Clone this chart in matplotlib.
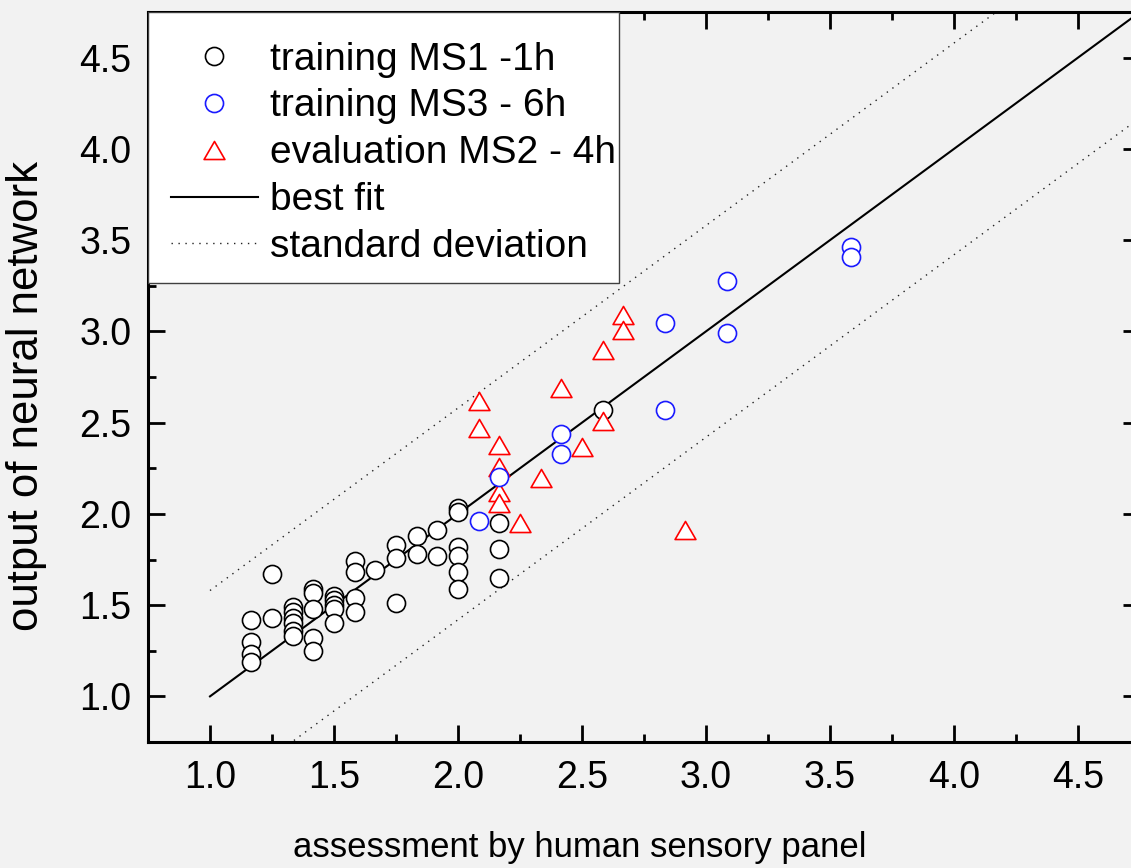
import numpy as np
import matplotlib.pyplot as plt
from matplotlib.patches import Rectangle
from matplotlib.path import Path
from matplotlib.ticker import MultipleLocator

# training MS1 - 1h (black circles)
ms1_x = [1.167, 1.167, 1.167, 1.167, 1.25, 1.25,
         1.333, 1.333, 1.333, 1.333, 1.333, 1.333,
         1.417, 1.417, 1.417, 1.417, 1.417,
         1.5, 1.5, 1.5, 1.5, 1.5,
         1.583, 1.583, 1.583, 1.583, 1.667,
         1.75, 1.75, 1.75, 1.833, 1.833, 1.917, 1.917,
         2.0, 2.0, 2.0, 2.0, 2.0, 2.0,
         2.167, 2.167, 2.167, 2.583]
ms1_y = [1.42, 1.30, 1.23, 1.19, 1.43, 1.67,
         1.49, 1.46, 1.43, 1.40, 1.36, 1.33,
         1.59, 1.565, 1.48, 1.32, 1.25,
         1.55, 1.53, 1.50, 1.48, 1.40,
         1.74, 1.68, 1.54, 1.46, 1.69,
         1.83, 1.76, 1.51, 1.88, 1.78, 1.91, 1.77,
         2.03, 2.01, 1.82, 1.77, 1.68, 1.59,
         1.95, 1.81, 1.65, 2.57]

# training MS3 - 6h (blue circles)
ms3_x = [2.083, 2.167, 2.417, 2.417, 2.833, 2.833, 3.083, 3.083, 3.583, 3.583]
ms3_y = [1.96, 2.20, 2.44, 2.33, 3.045, 2.57, 3.275, 2.99, 3.465, 3.41]

# evaluation MS2 - 4h (red triangles)
ms2_x = [2.083, 2.083, 2.167, 2.167, 2.167, 2.167, 2.25, 2.333,
         2.417, 2.5, 2.583, 2.583, 2.667, 2.667, 2.917]
ms2_y = [2.62, 2.47, 2.38, 2.255, 2.12, 2.06, 1.95, 2.195,
         2.69, 2.365, 2.51, 2.90, 3.09, 3.01, 1.91]

fit_x = [1.0, 4.75]
fit_slope = 1.0
fit_icpt = 0.0
sd = 0.58

ticks = [1.0, 1.5, 2.0, 2.5, 3.0, 3.5, 4.0, 4.5]

plt.rcParams['font.family'] = ['Liberation Sans', 'DejaVu Sans']
bg = '#f2f2f2'
W, H = 1131, 868

fig = plt.figure(figsize=(W / 100, H / 100), dpi=100, facecolor=bg)
ax = fig.add_axes([148 / W, 1 - 742 / H, (1140 - 148) / W, (742 - 12) / H])
ax.set_facecolor(bg)

fx = np.array(fit_x)
fy = fit_slope * fx + fit_icpt
ax.plot(fx, fy, color='black', lw=1.5, zorder=2, label='best fit')
ax.plot(fx, fy + sd, color='#222222', lw=1.0, ls=(0, (1, 4)), zorder=2,
        label='standard deviation')
ax.plot(fx, fy - sd, color='#222222', lw=1.0, ls=(0, (1, 4)), zorder=2)

tri = Path([(-1, -0.866), (1, -0.866), (0, 0.866), (-1, -0.866)],
           [Path.MOVETO, Path.LINETO, Path.LINETO, Path.CLOSEPOLY])

ax.plot(ms1_x, ms1_y, 'o', ms=13, mfc='white', mec='black', mew=1.2,
        zorder=3, label='training MS1 -1h')
ax.plot(ms3_x, ms3_y, 'o', ms=13, mfc='white', mec='#1a1aff', mew=1.2,
        zorder=5, label='training MS3 - 6h')
ax.plot(ms2_x, ms2_y, marker=tri, ls='none', ms=15, mfc='white',
        mec='#ff0000', mew=1.2, zorder=4, label='evaluation MS2 - 4h')

ax.set_xlim(0.75, 4.75)
ax.set_ylim(0.75, 4.75)
ax.set_xticks(ticks)
ax.set_yticks(ticks)
ax.xaxis.set_minor_locator(MultipleLocator(0.25))
ax.yaxis.set_minor_locator(MultipleLocator(0.25))
ax.tick_params(which='both', direction='in', top=True, right=True, width=2)
ax.tick_params(which='major', length=12, labelsize=27)
ax.tick_params(which='minor', length=6)
ax.tick_params(axis='x', which='major', pad=13)
ax.tick_params(axis='y', which='major', pad=12)
for s in ax.spines.values():
    s.set_linewidth(2.2)

ax.set_xlabel('assessment by human sensory panel', fontsize=25)
ax.set_ylabel('output of neural network', fontsize=31.5)
ax.xaxis.set_label_coords((580 - 148) / 992, (742 - 831) / 730)
ax.yaxis.set_label_coords((47 - 148) / 992, (742 - 396) / 730)

h, l = ax.get_legend_handles_labels()
order = [2, 3, 4, 0, 1]
leg = ax.legend([h[i] for i in order], [l[i] for i in order], loc='upper left',
                bbox_to_anchor=(0, 1 - 7 / 730), fontsize=28, frameon=False,
                borderaxespad=0, handlelength=2.24, handletextpad=0.33,
                labelspacing=0.28, borderpad=0.58)
leg.set_zorder(10)

# legend box (frame drawn separately so it hugs the text on the right)
box = Rectangle((148 / W, 1 - 283 / H), (619 - 148) / W, (283 - 12) / H,
                transform=fig.transFigure, facecolor='white',
                edgecolor='#404040', lw=1.0, zorder=9)
ax.add_patch(box)

fig.savefig('out.png', dpi=100, facecolor=bg)
